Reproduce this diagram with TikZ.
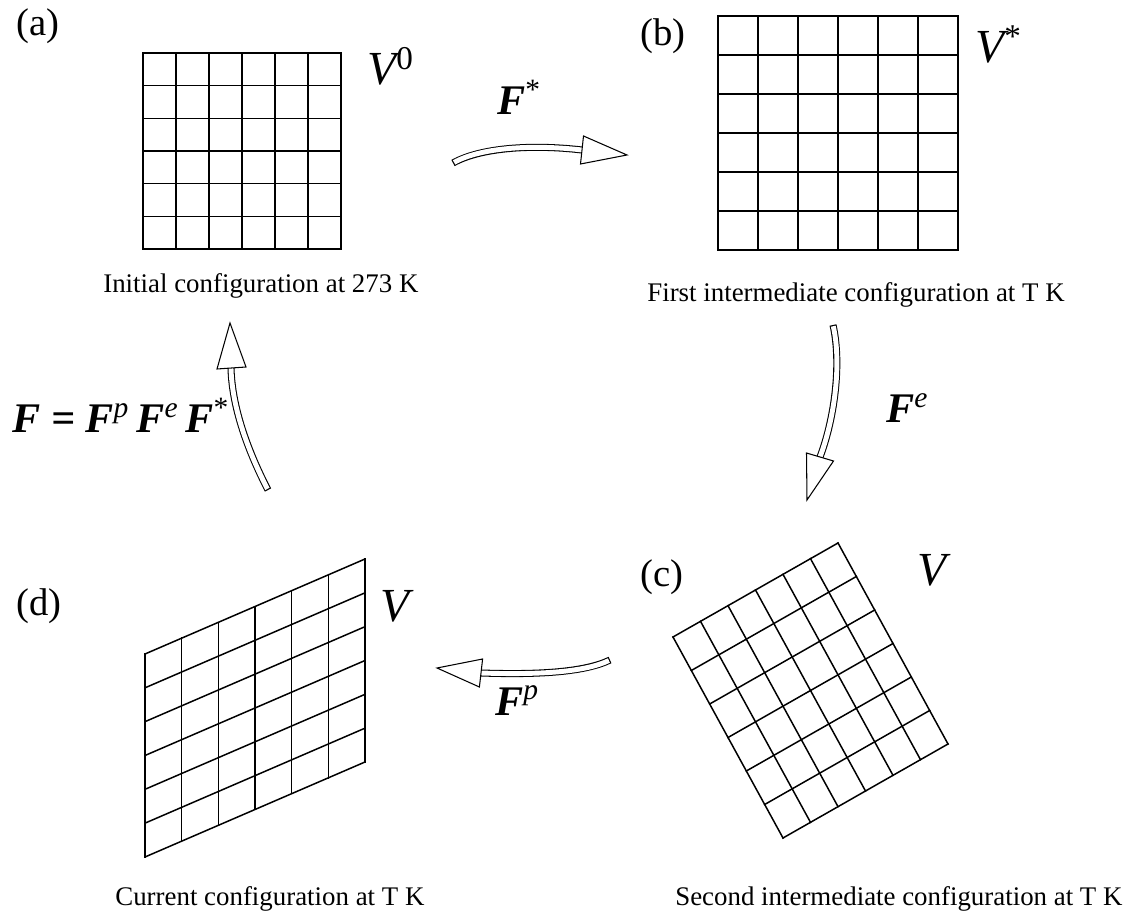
\documentclass[tikz,border=0pt]{standalone}
\usepackage{fontspec}
\setmainfont{Liberation Serif}
\usetikzlibrary{calc}
\tikzset{>=latex}
\colorlet{lattice}{black}
\tikzstyle{cell}=[lattice,line width=0.85pt,line cap=rect]

\begin{document}
\begin{tikzpicture}[x=0.02cm,y=-0.02cm,
    caption/.style={anchor=base west,inner sep=0pt,font=\fontsize{15.3}{18}\selectfont},
    tag/.style={anchor=base west,inner sep=0pt,font=\fontsize{22}{26}\selectfont},
    vol/.style={anchor=base west,inner sep=0pt,font=\fontsize{27}{30}\selectfont\itshape},
    map/.style={anchor=base west,inner sep=0pt,font=\fontsize{24}{28}\selectfont\bfseries\itshape},
    shaft/.style={white,line width=2.8pt,shorten <=0.7pt,
                  preaction={draw=black,line width=4pt,shorten <=0pt}},
    head/.style={fill=white,draw=black,line width=0.6pt,line join=miter},
  ]
  \useasboundingbox (0,0) rectangle (1140,915);

  % LATTICE (a): reference
  \foreach \i in {0,...,6}{
    \draw[cell] (143+33*\i,53) -- ++(0,196);
    \draw[cell] (143,53+196*\i/6) -- ++(198,0);
  }
  % LATTICE (b): thermal expansion
  \foreach \i in {0,...,6}{
    \draw[cell] (718+40*\i,16) -- ++(0,234);
    \draw[cell] (718,16+39*\i) -- ++(240,0);
  }
  % LATTICE (c): elastic rotation
  \foreach \i in {0,...,6}{
    \draw[cell] (673+27.5*\i,637-15.667*\i) -- ++(110,201);
    \draw[cell] (673+18.333*\i,637+33.5*\i) -- ++(165,-94);
  }
  % LATTICE (d): plastic shear
  \foreach \i in {0,...,6}{
    \draw[cell] (145+36.667*\i,654-15.833*\i) -- ++(0,203);
    \draw[cell] (145,654+33.833*\i) -- ++(220,-95);
  }

  % TAGS
  \node[tag] (tagA) at (16,36) {(a)};
  \node[tag] (tagB) at (640,46) {(b)};
  \node[tag] (tagC) at (640,586) {(c)};
  \node[tag] (tagD) at (16,616) {(d)};

  % VOLUMES
  \node[vol] (volA) at (367,85) {V\textsuperscript{\upshape 0}};
  \node[vol] (volB) at (975,63) {V\textsuperscript{\upshape *}};
  \node[vol] (volC) at (917,585) {V};
  \node[vol] (volD) at (380,622) {V};

  % CAPTIONS
  \node[caption] (capA) at (103,293) {Initial configuration at 273 K};
  \node[caption] (capB) at (647,302) {First intermediate configuration at T K};
  \node[caption] (capC) at (115,905) {Current configuration at T K};
  \node[caption] (capD) at (675,905) {Second intermediate configuration at T K};

  % MAPS
  \node[map] (mapS) at (497,115) {F\textsuperscript{\mdseries\upshape *}};
  \node[map] (mapE) at (886,423) {F\textsuperscript{\mdseries e}};
  \node[map] (mapP) at (495,715) {F\textsuperscript{\mdseries p}};
  \node[map] (mapF) at (12,433)
    {F = F\textsuperscript{\mdseries p}\,F\textsuperscript{\mdseries e}\,F\textsuperscript{\mdseries\upshape *}};

  % ARROW (a) -> (b)
  \coordinate (tailS) at (453,163);
  \coordinate (backS) at (582,150);
  \coordinate (tipS) at (627,155);
  \draw[shaft] (tailS) .. controls (480,148) and (530,144) .. (backS);
  \filldraw[head] (583.5,136) -- (tipS) -- (580.5,164) -- cycle;

  % ARROW (b) -> (c)
  \coordinate (tailE) at (833,325);
  \coordinate (backE) at (820,457);
  \coordinate (tipE) at (807,500);
  \draw[shaft] (tailE) .. controls (842,365) and (834,420) .. (backE);
  \filldraw[head] (806.5,453) -- (tipE) -- (833.5,461) -- cycle;

  % ARROW (c) -> (d)
  \coordinate (tailP) at (610,660);
  \coordinate (backP) at (481,673);
  \coordinate (tipP) at (437,668);
  \draw[shaft] (tailP) .. controls (585,672) and (540,675) .. (backP);
  \filldraw[head] (482.6,659) -- (tipP) -- (479.4,687) -- cycle;

  % ARROW (d) -> (a)
  \coordinate (tailF) at (268,490);
  \coordinate (backF) at (231,368);
  \coordinate (tipF) at (230,323);
  \draw[shaft] (tailF) .. controls (250,455) and (232,410) .. (backF);
  \filldraw[head] (217,369) -- (tipF) -- (246,367) -- cycle;
\end{tikzpicture}
\end{document}
